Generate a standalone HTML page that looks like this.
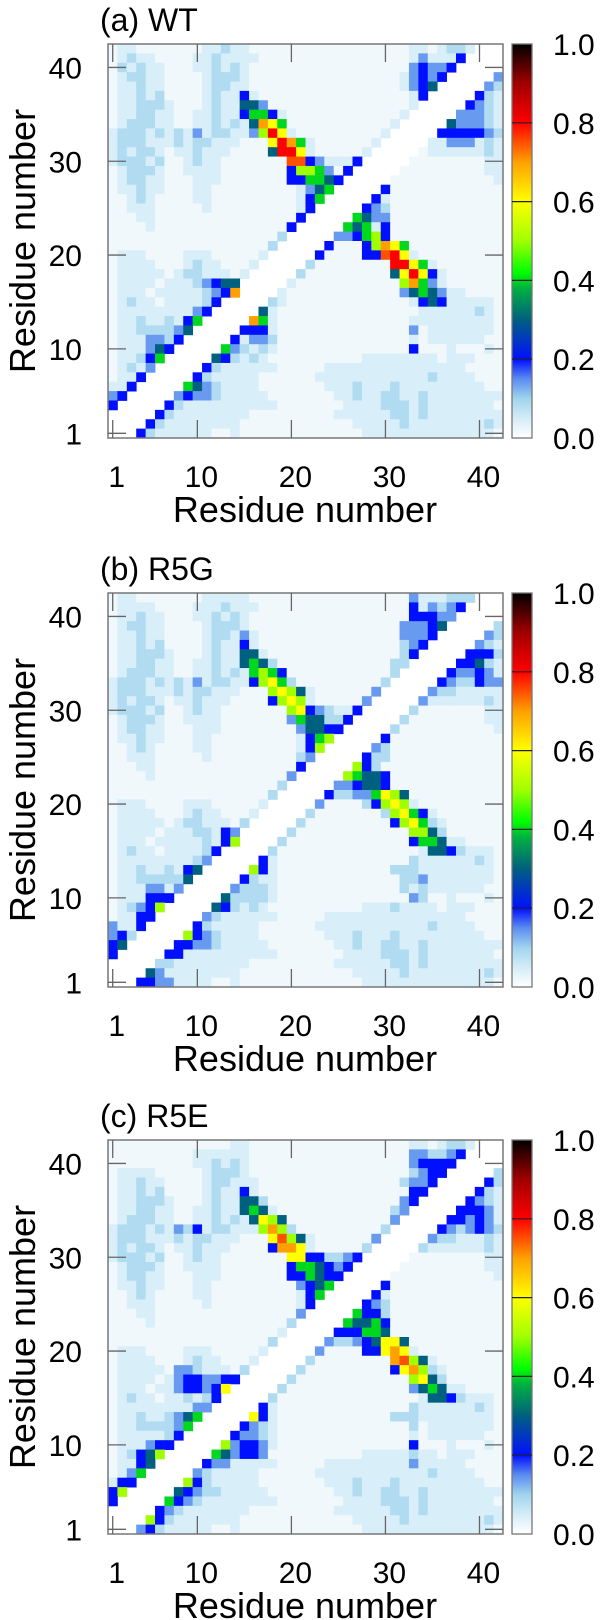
<!DOCTYPE html>
<html><head><meta charset="utf-8"><style>
html,body{margin:0;padding:0;background:#fff;}
svg{display:block;font-family:"Liberation Sans",Arial,sans-serif;}
</style></head><body>
<svg id="fig" width="600" height="1620" viewBox="0 0 600 1620" xmlns="http://www.w3.org/2000/svg">
<defs>
<linearGradient id="cbgrad" x1="0" y1="1" x2="0" y2="0">
<stop offset="0" stop-color="#ffffff"/><stop offset="0.05" stop-color="#d4ecf8"/><stop offset="0.1" stop-color="#a0d4ee"/>
<stop offset="0.15" stop-color="#5a8cf0"/><stop offset="0.2" stop-color="#0010ff"/><stop offset="0.3" stop-color="#006080"/>
<stop offset="0.38" stop-color="#00b040"/><stop offset="0.42" stop-color="#00ff00"/><stop offset="0.5" stop-color="#a0ff00"/>
<stop offset="0.6" stop-color="#ffff00"/><stop offset="0.7" stop-color="#ffa000"/><stop offset="0.8" stop-color="#ff0000"/>
<stop offset="0.9" stop-color="#a00000"/><stop offset="1" stop-color="#000000"/>
</linearGradient>
</defs>
</svg>
<script>
// ---- data: contact probability, rows from residue 42 (top) down to 1, columns 1..42 ----
const panelTitles = ["(a)  WT", "(b)  R5G", "(c)  R5E"];
const xTickLabels = [1, 10, 20, 30, 40];
const yTickLabels = [1, 10, 20, 30, 40];
const cbTickLabels = ["0.0", "0.2", "0.4", "0.6", "0.8", "1.0"];
const cbTickValues = [0, 0.2, 0.4, 0.6, 0.8, 1.0];
const levelCodes = {'.':0,'a':0.018,'b':0.045,'c':0.085,'1':0.14,'2':0.2,'3':0.3,'4':0.4,'5':0.5,'6':0.6,'7':0.7,'o':0.75,'8':0.8};

const mapWT = [
"abbaaaa aaabbcb baaaaaa aaaaaaa aaaabba bccb...",
"abcbbaa aabbcbb bbaaaaa aaaaaaa aaaab1b bb2....",
"acbcbba aabbcbc baaaaaa aaaaaaa aaaa121 12.....",
"abccbba aaabccc baaaaaa aaaaaaa aaab121 2.....1",
"abbcbba aaabccb baaaaaa aaaaaaa aaab123 .....1c",
"abbcbca aaabcbb 2baaaaa aaaaaaa aaaab2. ....2cb",
"abbcccb aaabcbb 331aaaa aaaaaaa aaaab.. ...21cb",
"abbccbb aabbcbb 2442baa aaaaaaa aaab... ..111cb",
"abcccbb aabbcbc b3764aa aaaaaaa aab.... .3111cb",
"bcccbcb cb1bccb b1586ba aaaaaaa ab..... 222221c",
"bcccbbb cbccbbb aaa6874 baaaaaa b.....b b111bcb",
"bcbccba bbcbbba aaa3886 baaaaab .....ab bbbbbcb",
"bcccbca abcbbaa aaaaaoo 21bbb2. ....aaa aaaaabb",
"abcccba abbbbaa aaaaa25 541a2.. ...aaaa aaaaabb",
"abccbba aabbbaa aaaaa22 4432... ..aaaaa aaaaaab",
"abbcbba aabbaaa aaaaaab 134.... .2aaaaa aaaaaaa",
"aabcbaa aabbaaa aaaaaab 24..... 2baaaaa aaaaaaa",
"aabbbaa aaabaaa aaaaaab 2.....2 1caaaaa aaaaaaa",
"aaabbaa aaaaaaa aaaaaa2 .....43 11aaaaa aaaaaaa",
"aaaabaa aaaaaaa aaaaa2. ....434 b2aaaaa aaaaaaa",
"aaaaaaa aaaaaaa aaaac.. ...1124 52aaaaa aaaaaaa",
"aaaaaaa aaaaaaa aaac... ..2aaa2 5764aaa aaaaaaa",
"abbbaaa abbbaaa aab.... .2aaaa2 2o86baa aaaaaaa",
"abbbbaa abcbbaa ab..... caaaaaa aa8864b aaaaaaa",
"abbbbba bccbbba b.....c aaaaaaa aa36862 baaaaaa",
"abbbbab bbc1233 .....ba aaaaaaa aaa5741 baaaaaa",
"abbbabb bbbc127 ....baa aaaaaaa aaa1343 1bbaaaa",
"abcbbab bbbc2.. ...cbaa aaaaaaa aaaab23 2bbbbba",
"abbbbbb bb12... ..3baaa aaaaaaa aaaaabb bbbbcba",
"abbcbbc b24.... .74baaa aaaaaaa aaaabbb bbbbbba",
"abbcccc 13..... 222baaa aaaaaaa aaaa1ab bbbbbba",
"abbb11c 2.....2 b11caaa aaaaaaa aaaabab bbbbbaa",
"abbb132 .....41 cbcbaaa aaaaaaa aaaa2aa abaaaba",
"abbc24. ....32c bcbaaaa aaaaaab bbbbbbb abbbaaa",
"abcb1.. ...2cbb bbbbaaa aabbbbb bbbbbbb bbbaaaa",
"abb2... ..2cbbb bbaaaaa abbbbbb bbbbbbc bbbbaaa",
"bb2.... .431cbb bbaaaaa aabbbcb bbcbbbb bbbbbaa",
"12..... 1211cbb bbbaaaa aaabbcb bccbbcb bbbbbbb",
"2.....2 cbbbbbb bbbbaaa aaaabbb bcccbcb bbbbbba",
".....2c bbbbbbb baaaaaa aaabbbb bbccbcb bbbbbbb",
"....2cb bbbbbbb aaaaaaa aaaaabb bbbcbbb bbbbbcb",
"...2cbb bbbbaab aaaaaaa aaaaaab bbbbbbb bbbbbba"
];

const mapR5G = [
"abbaaaa aaabbbb baaaaaa aaaaaaa aaaa1bb bccc...",
"abbbbaa aabbbcb bbaaaaa aaaaaaa aaaa2b1 c12....",
"abbcbba aabbcbc baaaaaa aaaaaaa aaaa222 11.....",
"abccbba aaabccc baaaaaa aaaaaaa aaa1112 3.....c",
"abbcbba aaabccb 1baaaaa aaaaaaa aaa1112 .....1c",
"abbcbca aaabcbb 2baaaaa aaaaaaa aaac12. ....1cb",
"abbcccb aaabcbb 33baaaa aaaaaaa aaac2.. ...222c",
"abbccbb aabbcbb 343caaa aaaaaaa aacc... ..223cb",
"abcccbb aabbcbc b4542aa aaaaaaa aac.... .21121b",
"bcccbcb cb1bccb b2564ca aaaaaaa ac..... 21cc211",
"bcccbbb cbccbbb aaa5653 baaaaaa 1.....1 ccbbbbb",
"bcbccba bbcbbba aaa2565 baaaaa1 .....1b bbbbbcb",
"bcccbca abcbbaa aaaaa56 21cbb2. ....caa aaaaabb",
"abcccba abbbbaa aaaaa14 33cc2.. ...caaa aaaaabb",
"abccbba aabbbaa aaaaaa1 3322... ..caaaa aaaaaab",
"abbcbba aabbaaa aaaaaab 245.... .2aaaaa aaaaaaa",
"aabcbaa aabbaaa aaaaaab 25..... 1caaaaa aaaaaaa",
"aabbbaa aaabaaa aaaaaac 1.....2 ccaaaaa aaaaaaa",
"aaabbaa aaaaaaa aaaaaa2 .....52 caaaaaa aaaaaaa",
"aaaabaa aaaaaaa aaaaa1. ....543 32aaaaa aaaaaaa",
"aaaaaaa aaaaaaa aaaac.. ...1123 32aaaaa aaaaaaa",
"aaaaaaa aaaaaaa aaac... ..2cc11 4653aaa aaaaaaa",
"abbbaaa abbbaaa aab.... .1aaaac 2565baa aaaaaaa",
"abbbbaa abcbbaa ab..... caaaaaa ac5642b aaaaaaa",
"abbbbba bccbbba c.....c aaaaaaa aa2564c baaaaaa",
"abbbbab bbccb21 .....ca aaaaaaa aaaa553 caaaaaa",
"abbbabb bbbcb25 ....caa aaaaaaa aaaa244 3bbaaaa",
"abcbbab bbbc2.. ...caaa aaaaaaa aaaaab3 32cbbba",
"abbbbbb bbc1... ..2baaa aaaaaaa aaaacbb bbbbcba",
"abbcbbc b23.... .52baaa aaaaaaa aacccbb bbbbbba",
"abbcccc c3..... 2cbbaaa aaaaaaa aaacc1b bbbbbba",
"abbb11b 1.....1 cccbaaa aaaaaaa aaacbcb bbbbbaa",
"abbb222 .....3c cccbaaa aaaaaaa aaaa1ca abaaaba",
"abc125. ....32c bcbaaaa aaaaaab bbcbbbb abbbaaa",
"abb22.. ...1cbb bbbbaaa aabbbbb bbbbbbb bbbaaaa",
"1bb2... ..2cbbb bbaaaaa abbbbbb bbbbbbc bbbbaaa",
"12c.... .521cbb bbaaaaa aabbbcb bbcbbbb bbbbbaa",
"23..... 2211cbb bbbaaaa aaabbcb bccbbcb bbbbbbb",
"2.....2 2bbbbbb bbbbaaa aaaabbb bcccbcb bbbbbba",
".....cc bbbbbbb baaaaaa aaabbbb bbccbcb bbbbbbb",
"....31b bbbbbbb aaaaaaa aaaaabb bbbcbbb bbbbbcb",
"...2211 bbbbaab aaaaaaa aaaaaab bbbbbbb bbbbbba"
];

const mapR5E = [
"aaaaaaa aaaaaab baaaaaa aaaaaaa aaaabba bccb...",
"aaaaaaa aabbbbb baaaaaa aaaaaaa aaaa11c c12....",
"aaaaaaa aabbcbc baaaaaa aaaaaaa aaaa122 22.....",
"abbbbaa aaabccc baaaaaa aaaaaaa aaaac12 2.....c",
"abbcbba aaabccb bbaaaaa aaaaaaa aaac112 .....2c",
"abbcbca aaabcbb 2baaaaa aaaaaaa aaaa22. ....2cb",
"abbcccb aaabcbb 33caaaa aaaaaaa aaa12.. ...21cb",
"abbccbb aabbcbb 343baaa aaaaaaa aac1... ..2221b",
"abcccbb aabbcbc b3653aa aaaaaaa aa1.... .22121b",
"bcccbcb 1c2bccb bb575ca aaaaaaa ac..... 21c121c",
"bcccbbb cbccbbb aaa6o53 baaaaaa 1.....1 ccbbbcb",
"bcbccba bbcbbba aaa2776 baaaaac .....cb bbbbbcb",
"bcccbca abcbbaa aaaaa66 22cc12. ....aaa aaaaabb",
"abcccba abbbbaa aaaaa24 43212.. ...aaaa aaaaabb",
"abccbba aabbbaa aaaaa22 4322... ..aaaaa aaaaaab",
"abbcbba aabbaaa aaaaaa1 234.... .2aaaaa aaaaaaa",
"aabcbaa aabbaaa aaaaaab 24..... 2baaaaa aaaaaaa",
"aabbbaa aaabaaa aaaaaab 2.....2 1caaaaa aaaaaaa",
"aaabbaa aaaaaaa aaaaaa1 .....42 2caaaaa aaaaaaa",
"aaaabaa aaaaaaa aaaaac. ....433 42aaaaa aaaaaaa",
"aaaaaaa aaaaaaa aaaab.. ...2224 43aaaaa aaaaaaa",
"aaaaaaa aaaaaaa aaac... ..1cc12 3663aaa aaaaaaa",
"abbbaaa abbbaaa aab.... .1aaaa2 2676baa aaaaaaa",
"abbbbaa abcbbaa ab..... caaaaaa aa7o53b aaaaaaa",
"abbbbba 11cbbba c.....c aaaaaaa aa2675c baaaaaa",
"abbbbab 1221122 .....ca aaaaaaa aaaa563 caaaaaa",
"abbbabb 122126. ....caa aaaaaaa aaaa134 3bbaaaa",
"abcbbab bcbc2.. ...caaa aaaaaaa aaaaab3 32cbbba",
"abbbbbb bb11... ..2baaa aaaaaaa aaaacbb bbbbcba",
"abbcbbc 134.... .62baaa aaaaaaa aacccbb bbbbbba",
"abbcccc 14..... 21cbaaa aaaaaaa aaaacab bbbbbba",
"abbbbbc 2.....2 11cbaaa aaaaaaa aaaabab bbbbbaa",
"abbb122 .....51 221baaa aaaaaaa aaaa2aa abaaaba",
"abc235. ....431 221aaaa aaaaaab bbbbcbb abbbaaa",
"abb23.. ...211b bbbbaaa aabbbbb bbbb1bb bbbaaaa",
"ab14... ..1cbbb bbaaaaa abbbbbb bbbbbbc bbbbaaa",
"b22.... .52cbbb bbaaaaa aabbbcb bbcbbbb bbbbbaa",
"25..... 321ccbb bbbaaaa aaabbcb bccbbcb bbbbbbb",
"2.....4 21cbbbb bbbbaaa aaaabbb bcccbcb bbbbbba",
".....21 cbbbbbb baaaaaa aaabbbb bbccbcb bbbbbbb",
"....52c bbbbbbb aaaaaaa aaaaabb bbbcbbb bbbbbcb",
"...12cb bbbbaab aaaaaaa aaaaaab bbbbbbb bbbbbba"
];

const panelMaps = [mapWT, mapR5G, mapR5E];
</script>
<script>
const NS = "http://www.w3.org/2000/svg";
const svg = document.getElementById('fig');
const N = 42;
const PX0 = 108, PX1 = 503, PY0 = 44, PY1 = 438;
const panelOffsets = [0, 549, 1096];
const CB_X0 = 512, CB_X1 = 532;

const stops = [[0,[255,255,255]],[0.05,[212,236,248]],[0.1,[160,212,238]],[0.15,[90,140,240]],[0.2,[0,16,255]],[0.3,[0,96,128]],[0.38,[0,176,64]],[0.42,[0,255,0]],[0.5,[160,255,0]],[0.6,[255,255,0]],[0.7,[255,160,0]],[0.8,[255,0,0]],[0.9,[160,0,0]],[1,[0,0,0]]];
function colorOf(v){
  v = Math.max(0, Math.min(1, v));
  for (let i = 1; i < stops.length; i++){
    if (v <= stops[i][0]){
      const [a, ca] = stops[i-1], [b, cb] = stops[i];
      const t = (v - a) / (b - a);
      const c = ca.map((x, k) => Math.round(x + (cb[k] - x) * t));
      return 'rgb(' + c.join(',') + ')';
    }
  }
  return 'rgb(0,0,0)';
}
function xScale(res){ return PX0 + (res - 0.5) * (PX1 - PX0) / N; }
function yScale(res, off){ return PY1 + off - (res - 0.5) * (PY1 - PY0) / N; }
function cbScale(v, off){ return PY1 + off - v * (PY1 - PY0); }
function mk(tag, attrs, parent){
  const e = document.createElementNS(NS, tag);
  for (const k in attrs) e.setAttribute(k, attrs[k]);
  (parent || svg).appendChild(e);
  return e;
}

panelMaps.forEach((map, p) => {
  const off = panelOffsets[p];
  const g = mk('g', {});
  
  

  const title = mk('text', {x: 100, y: 31 + off, 'font-size': 32, fill: '#000'}, g);
  title.textContent = panelTitles[p];
  
  

  const cells = mk('g', {}, g);
  
  
  const cw = (PX1 - PX0) / N, ch = (PY1 - PY0) / N;
  map.forEach((rowStr, ri) => {
    const s = rowStr.replace(/ /g, '');
    const res = N - ri;
    for (let c = 1; c <= N; c++){
      const ch0 = s[c-1] || '.';
      const v = levelCodes[ch0] !== undefined ? levelCodes[ch0] : 0;
      if (v <= 0) continue;
      const r = mk('rect', {x: (xScale(c) - cw/2).toFixed(2), y: (yScale(res, off) - ch/2).toFixed(2), width: (cw + 0.4).toFixed(2), height: (ch + 0.4).toFixed(2), fill: colorOf(v)}, cells);
      
      
    }
  });

  const frame = mk('rect', {x: PX0, y: PY0 + off, width: PX1 - PX0, height: PY1 - PY0, fill: 'none', stroke: '#777', 'stroke-width': 1.5}, g);
  
  

  const TL = 18;
  xTickLabels.forEach(t => {
    const x = xScale(t);
    mk('line', {x1: x, y1: PY1 + off, x2: x, y2: PY1 + off - TL, stroke: '#666', 'stroke-width': 1.3}, g);
    mk('line', {x1: x, y1: PY0 + off, x2: x, y2: PY0 + off + TL, stroke: '#666', 'stroke-width': 1.3}, g);
    const lb = mk('text', {x: x + 4, y: 487 + off, 'font-size': 30, 'text-anchor': 'middle', fill: '#000'}, g);
    lb.textContent = t;
    
    
  });
  yTickLabels.forEach(t => {
    const y = yScale(t, off);
    mk('line', {x1: PX0, y1: y, x2: PX0 + TL, y2: y, stroke: '#666', 'stroke-width': 1.3}, g);
    mk('line', {x1: PX1, y1: y, x2: PX1 - TL, y2: y, stroke: '#666', 'stroke-width': 1.3}, g);
    const lb = mk('text', {x: 82, y: y + 11, 'font-size': 30, 'text-anchor': 'end', fill: '#000'}, g);
    lb.textContent = t;
    
    
  });

  const xt = mk('text', {x: 305, y: 522 + off, 'font-size': 36, 'text-anchor': 'middle', fill: '#000'}, g);
  xt.textContent = 'Residue number';
  
  
  const yt = mk('text', {x: 0, y: 0, 'font-size': 36, 'text-anchor': 'middle', fill: '#000', transform: 'translate(35,' + (241 + off) + ') rotate(-90)'}, g);
  yt.textContent = 'Residue number';
  
  

  const cb = mk('rect', {x: CB_X0, y: PY0 + off, width: CB_X1 - CB_X0, height: PY1 - PY0, fill: 'url(#cbgrad)', stroke: '#777', 'stroke-width': 1.3}, g);
  
  
  cbTickValues.forEach((v, i) => {
    const y = cbScale(v, off);
    if (v > 0 && v < 1) mk('line', {x1: CB_X0, y1: y, x2: CB_X1, y2: y, stroke: '#222', 'stroke-width': 1.2}, g);
    const lb = mk('text', {x: 553, y: y + 11, 'font-size': 30, fill: '#000'}, g);
    lb.textContent = cbTickLabels[i];
    
    
  });
});
</script>
</body></html>
